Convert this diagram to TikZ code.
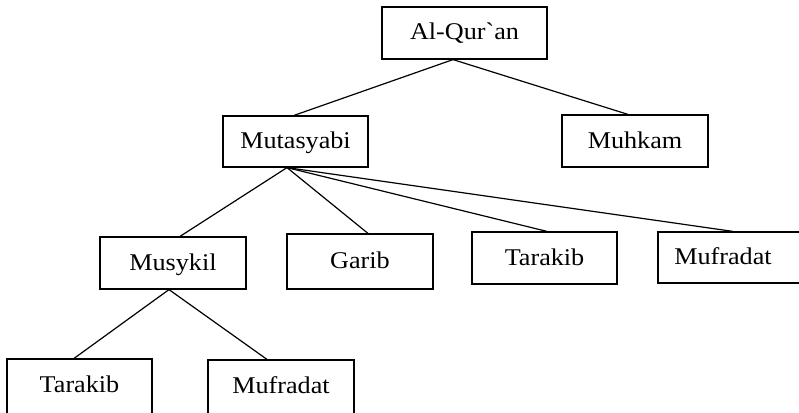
\documentclass[tikz,border=0pt]{standalone}
\usepackage{fontspec}
% no TeX ligature mapping, so the grave accent stays a plain `
\newfontfamily\boxfont[FakeStretch=1.09]{Liberation Serif}
\begin{document}
\begin{tikzpicture}[x=1pt,y=-1pt,
  box/.style={draw=black,line width=1.2pt,fill=white,inner sep=0pt,
    minimum width=146pt,minimum height=52pt,
    text height=17pt,text depth=3pt,
    font=\boxfont\fontsize{24}{28}\selectfont},
  openbox/.style={box,minimum height=62pt,text height=16pt,text depth=12pt},
  link/.style={draw=black,line width=1.2pt}]
  \clip (0,0) rectangle (799,412);
  \fill[white] (0,0) rectangle (799,412);

  % boxes
  \node[box,minimum width=165pt] (quran) at (464.5,33) {Al-Qur`an};
  \node[box,minimum width=145pt,minimum height=51pt] (mutasyabi) at (295.5,141.5) {Mutasyabi};
  \node[box] (muhkam) at (635,141) {Muhkam};
  \node[box] (musykil) at (173,263) {Musykil};
  \node[box,minimum height=55pt] (garib) at (360,261.5) {Garib};
  \node[box,minimum width=145pt] (tarakibA) at (544.5,258) {Tarakib};
  \node[box,minimum width=170pt,minimum height=51pt] (mufradatA) at (743,257.5) {Mufradat\hspace*{40pt}};
  \node[openbox,minimum width=145pt] (tarakibB) at (79.5,390) {Tarakib};
  \node[openbox] (mufradatB) at (281,391) {Mufradat};

  % connectors
  \draw[link] ([xshift=-11.5pt]quran.south) -- ([xshift=-1.5pt]mutasyabi.north);
  \draw[link] ([xshift=-11.5pt]quran.south) -- ([xshift=-7pt]muhkam.north);
  \draw[link] ([xshift=-8.5pt]mutasyabi.south) -- ([xshift=7pt]musykil.north);
  \draw[link] ([xshift=-8.5pt]mutasyabi.south) -- ([xshift=8pt]garib.north);
  \draw[link] ([xshift=-8.5pt]mutasyabi.south) -- ([xshift=2.5pt]tarakibA.north);
  \draw[link] ([xshift=-8.5pt]mutasyabi.south) -- ([xshift=-10pt]mufradatA.north);
  \draw[link] ([xshift=-4pt]musykil.south) -- ([xshift=-5.5pt]tarakibB.north);
  \draw[link] ([xshift=-4pt]musykil.south) -- ([xshift=-14pt]mufradatB.north);
\end{tikzpicture}
\end{document}
